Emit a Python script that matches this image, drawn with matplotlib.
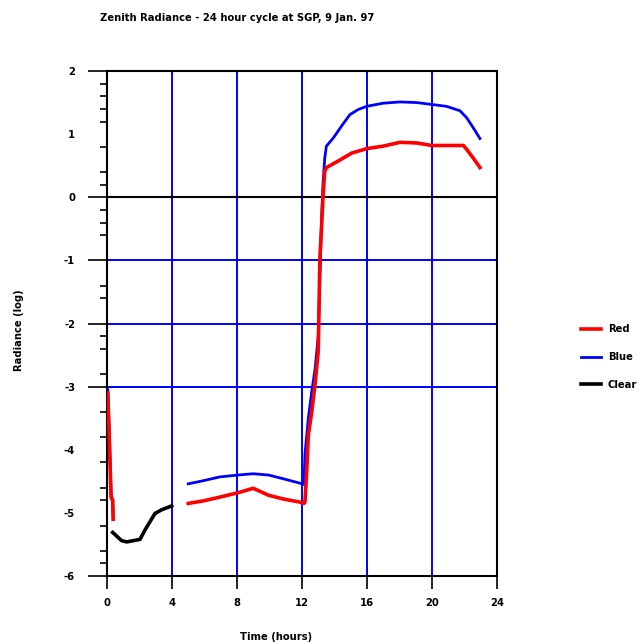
import matplotlib
matplotlib.use('Agg')
import matplotlib.pyplot as plt
import numpy as np

# readings (time in hours, log radiance)
red_t1 = [0.05, 0.15, 0.25, 0.30, 0.35, 0.38]
red_v1 = [-3.10, -3.90, -4.75, -4.78, -4.80, -5.10]
blue_t1 = [0.05, 0.15, 0.25, 0.35, 0.38]
blue_v1 = [-3.05, -3.80, -4.70, -4.80, -5.10]

clear_t = [0.35, 0.90, 1.21, 2.03, 2.34, 2.95, 3.37, 3.98]
clear_v = [-5.31, -5.44, -5.46, -5.42, -5.27, -5.01, -4.95, -4.89]

red_t2 = [5.0, 5.93, 6.95, 8.08, 9.0, 9.93, 10.85, 11.88, 12.12,
          12.18, 12.29, 12.39, 12.6, 12.8, 13.0, 13.1, 13.2, 13.3, 13.4, 13.5,
          14.2, 15.06, 15.98, 17.0, 18.03, 19.06, 19.98, 20.9, 21.93, 22.13,
          22.54, 22.95]
red_v2 = [-4.85, -4.81, -4.75, -4.68, -4.61, -4.72, -4.78, -4.83, -4.85,
          -4.83, -4.35, -3.77, -3.40, -2.97, -2.44, -0.96, -0.49, 0.04, 0.41, 0.47,
          0.57, 0.70, 0.77, 0.81, 0.87, 0.86, 0.82, 0.82, 0.82, 0.76,
          0.62, 0.47]

blue_t2 = [5.0, 5.93, 6.95, 8.08, 9.0, 9.93, 10.85, 11.88, 12.12,
           12.18, 12.39, 12.6, 12.8, 13.0, 13.2, 13.3, 13.4, 13.5,
           13.93, 14.44, 14.95, 15.46, 15.98, 17.0, 18.03, 19.06, 19.98, 20.9,
           21.72, 22.13, 22.54, 22.95]
blue_v2 = [-4.54, -4.49, -4.43, -4.40, -4.38, -4.40, -4.46, -4.53, -4.55,
           -4.08, -3.50, -3.08, -2.73, -2.20, -0.38, 0.25, 0.62, 0.81,
           0.94, 1.13, 1.31, 1.39, 1.44, 1.49, 1.51, 1.50, 1.47, 1.44,
           1.37, 1.26, 1.10, 0.93]

x_ticks = [0, 4, 8, 12, 16, 20, 24]
y_ticks = [2, 1, 0, -1, -2, -3, -4, -5, -6]
y_no_mark = [1, -4, -5]
y_minor = [1.8, 1.6, 1.4, 1.2, 0.8, 0.4, 0.2, -0.2, -0.4, -0.6, -1.4, -1.6,
           -2.2, -2.4, -2.8, -3.4, -3.8, -4.2, -4.6, -4.8, -5.2, -5.6, -5.8]

font = {'family': 'DejaVu Sans', 'weight': 'bold', 'size': 7.2}

fig = plt.figure(figsize=(6.39, 6.43), dpi=100)
ax = fig.add_axes([107/639, 1-576/643, 390/639, 505/643])

# grid
for t in [4, 8, 12, 16, 20]:
    ax.axvline(t, color='#0000ff', lw=1.4, zorder=1)
for v in [-1, -2, -3]:
    ax.axhline(v, color='#0000ff', lw=1.4, zorder=1)
ax.axhline(0, color='black', lw=1.5, zorder=1)

ax.plot(blue_t1, blue_v1, color='#0000ff', lw=2.0, zorder=3)
ax.plot(red_t1, red_v1, color='#ff0000', lw=2.6, zorder=4)
ax.plot(blue_t2, blue_v2, color='#0000ff', lw=2.0, zorder=3, label='Blue')
ax.plot(red_t2, red_v2, color='#ff0000', lw=2.6, zorder=4, label='Red')
ax.plot(clear_t, clear_v, color='black', lw=2.6, zorder=4, label='Clear')

ax.set_xlim(0, 24)
ax.set_ylim(-6, 2)
for s in ax.spines.values():
    s.set_linewidth(1.5)

ax.set_xticks(x_ticks)
ax.set_xticklabels([str(t) for t in x_ticks], fontdict=font)
ax.set_yticks(y_ticks)
ax.set_yticklabels([str(v) for v in y_ticks], fontdict=font)
ax.set_yticks(y_minor, minor=True)
ax.tick_params(axis='x', direction='out', length=9, width=1.2, pad=7)
ax.tick_params(axis='y', which='major', direction='out', length=14, width=1.2, pad=9)
ax.tick_params(axis='y', which='minor', direction='out', length=5, width=1.2)
for tk, v in zip(ax.yaxis.get_major_ticks(), y_ticks):
    if v in y_no_mark:
        tk.tick1line.set_visible(False)

fig.text(237/639, 1-18/643, 'Zenith Radiance - 24 hour cycle at SGP, 9 Jan. 97',
         ha='center', va='center', fontdict=font)
fig.text(276/639, 1-637/643, 'Time (hours)', ha='center', va='center', fontdict=font)
fig.text(19/639, 1-330/643, 'Radiance (log)', ha='center', va='center',
         rotation=90, fontdict=font)

h, l = ax.get_legend_handles_labels()
order = [1, 0, 2]
ax.legend([h[i] for i in order], [l[i] for i in order], loc='center left',
          bbox_to_anchor=(572/639, 1-357/643), bbox_transform=fig.transFigure,
          frameon=False, prop=font, labelspacing=1.75, handlelength=2.0,
          handletextpad=0.7)

fig.savefig('out.png', dpi=100)
